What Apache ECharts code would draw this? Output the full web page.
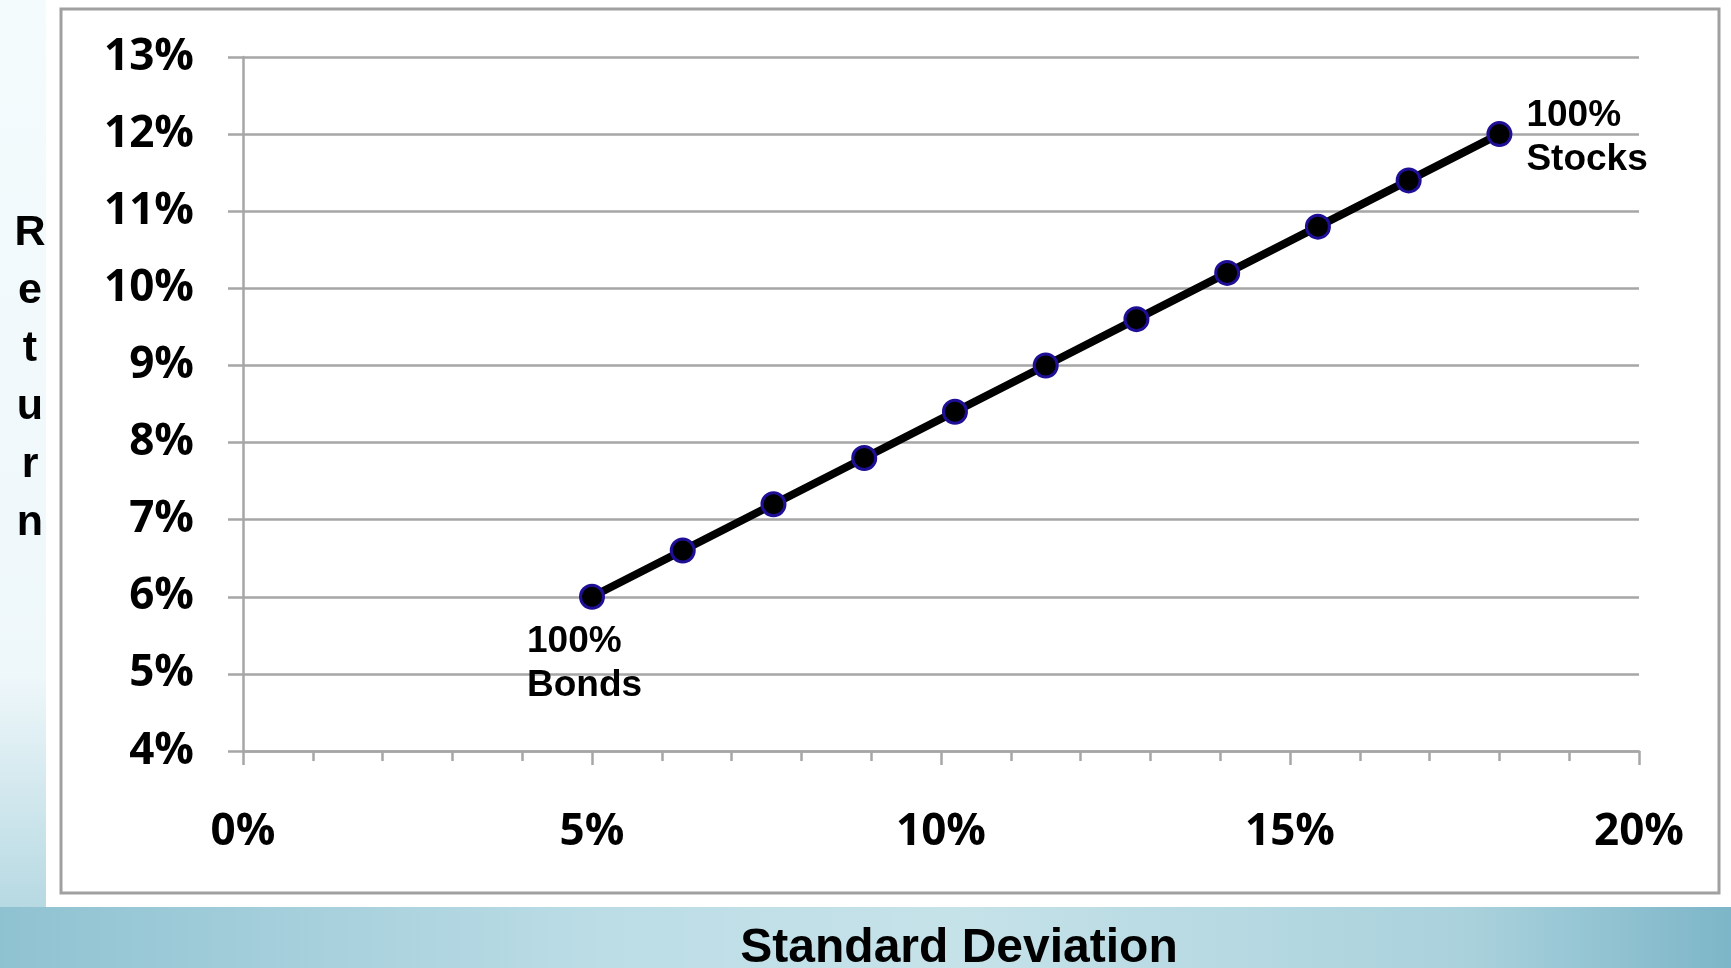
<!DOCTYPE html>
<html>
<head>
<meta charset="utf-8">
<script src="https://cdn.jsdelivr.net/npm/echarts@6/dist/echarts.min.js"></script>
<style>
html,body{margin:0;padding:0;width:1731px;height:968px;overflow:hidden;}
#chart{width:1731px;height:968px;}
</style>
</head>
<body>
<div id="chart"></div>
<script>
// Data
const stdDev = [5, 6.3, 7.6, 8.9, 10.2, 11.5, 12.8, 14.1, 15.4, 16.7, 18];
const returns = [6, 6.6, 7.2, 7.8, 8.4, 9.0, 9.6, 10.2, 10.8, 11.4, 12.0];
const pointNames = ['100%\nBonds', '', '', '', '', '', '', '', '', '', '100%\nStocks'];
const xTicks = [0, 5, 10, 15, 20];
const yTicks = [4, 5, 6, 7, 8, 9, 10, 11, 12, 13];
const xTitle = 'Standard Deviation';
const yTitle = 'Return';

const chart = echarts.init(document.getElementById('chart'), null, {renderer: 'canvas'});
const gray = '#a6a6a6';
const tickFont = {fontFamily: '"Open Sans", sans-serif', fontWeight: 'bold', fontSize: 44, color: '#000'};
const labelFont = {fontFamily: '"Liberation Sans", Arial, sans-serif', fontWeight: 'bold', fontSize: 37, color: '#000', lineHeight: 44};

const data = stdDev.map((x, i) => {
  const item = {value: [x, returns[i]]};
  if (pointNames[i]) {
    const first = i === 0;
    item.label = Object.assign({
      show: true,
      formatter: pointNames[i],
      position: first ? [-52, 36] : [40, -27],
      align: 'left',
      verticalAlign: 'top'
    }, labelFont);
  }
  return item;
});

const option = {
  backgroundColor: 'transparent',
  animation: false,
  graphic: [
    {type: 'rect', z: -10, shape: {x: 0, y: 0, width: 1731, height: 968},
     style: {fill: new echarts.graphic.LinearGradient(0, 0, 0, 1, [
       {offset: 0, color: '#f4fbfd'}, {offset: 0.7, color: '#eef7fa'}, {offset: 1, color: '#a8d1dc'}])}},
    {type: 'rect', z: -9, shape: {x: 0, y: 907, width: 1731, height: 61},
     style: {fill: new echarts.graphic.LinearGradient(0, 0, 1, 0, [
       {offset: 0, color: '#8fc2d1'}, {offset: 0.35, color: '#bcdde6'}, {offset: 0.55, color: '#c6e2e9'},
       {offset: 0.85, color: '#a9d1dc'}, {offset: 1, color: '#7db6c8'}])}},
    {type: 'rect', z: -8, shape: {x: 46, y: 0, width: 1685, height: 907}, style: {fill: '#ffffff'}},
    {type: 'rect', z: -7, shape: {x: 61, y: 9, width: 1658, height: 884},
     style: {fill: 'none', stroke: '#a0a0a0', lineWidth: 3}},
    {type: 'text', z: 10, x: 30, y: 378,
     style: {text: yTitle.split('').join('\n'), fontFamily: '"Liberation Sans", Arial, sans-serif',
       fontWeight: 'bold', fontSize: 43, lineHeight: 58, fill: '#000', align: 'center', verticalAlign: 'middle'}},
    {type: 'text', z: 10, x: 959, y: 949,
     style: {text: xTitle, fontFamily: '"Liberation Sans", Arial, sans-serif',
       fontWeight: 'bold', fontSize: 48, fill: '#000', align: 'center', verticalAlign: 'middle'}}
  ],
  grid: {left: 243, right: 92, top: 57, bottom: 217, containLabel: false},
  xAxis: {
    type: 'value', min: xTicks[0], max: xTicks[xTicks.length - 1], interval: xTicks[1] - xTicks[0],
    axisLine: {show: true, lineStyle: {color: gray, width: 2.5}},
    axisTick: {show: true, inside: false, length: 14, lineStyle: {color: gray, width: 2.5}},
    minorTick: {show: true, splitNumber: 5, length: 10, lineStyle: {color: gray, width: 2.5}},
    splitLine: {show: false},
    axisLabel: Object.assign({margin: 59, formatter: '{value}%'}, tickFont)
  },
  yAxis: {
    type: 'value', min: yTicks[0], max: yTicks[yTicks.length - 1], interval: yTicks[1] - yTicks[0],
    axisLine: {show: true, lineStyle: {color: gray, width: 2.5}},
    axisTick: {show: true, inside: false, length: 15, lineStyle: {color: gray, width: 2.5}},
    splitLine: {show: true, lineStyle: {color: gray, width: 2.5}},
    axisLabel: Object.assign({margin: 49, formatter: '{value}%', padding: [6, 0, 0, 0]}, tickFont)
  },
  series: [{
    type: 'line',
    data: data,
    symbol: 'circle',
    symbolSize: 23,
    lineStyle: {color: '#000', width: 8},
    itemStyle: {color: '#000', borderColor: '#1e0f96', borderWidth: 3},
    z: 5
  }]
};
chart.setOption(option);
</script>
</body>
</html>
